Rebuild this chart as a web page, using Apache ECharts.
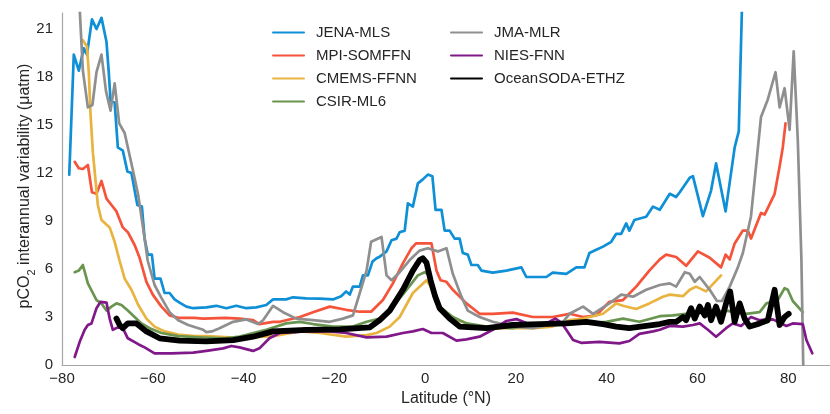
<!DOCTYPE html>
<html>
<head>
<meta charset="utf-8">
<script src="https://cdn.jsdelivr.net/npm/echarts@6/dist/echarts.min.js"></script>
<style>html,body{margin:0;padding:0;background:#fff}#c{width:830px;height:414px}</style>
</head>
<body>
<div id="c"></div>
<script>
// Latitude (°N) vs pCO2 interannual variability (µatm), [lat, value]
const seriesNames = ['JENA-MLS','MPI-SOMFFN','CMEMS-FFNN','CSIR-ML6','JMA-MLR','NIES-FNN','OceanSODA-ETHZ'];
const xTicks = [-80,-60,-40,-20,0,20,40,60,80];
const yTicks = [0,3,6,9,12,15,18,21];

const jenaMLS = [[-78.4,11.9],[-77.4,19.4],[-76.3,18.4],[-75.2,19.8],[-74.5,19.4],[-73.4,21.6],[-72.4,21.0],[-71.3,21.7],[-70.2,20.2],[-69.7,18.3],[-69.3,16.5],[-68.4,16.4],[-67.7,13.6],[-66.6,13.4],[-65.6,12.1],[-64.7,12.0],[-63.4,10.0],[-62.4,9.9],[-61.8,7.9],[-61.1,6.9],[-60.2,6.9],[-59.6,5.4],[-58.3,5.4],[-57.4,4.5],[-56.3,4.5],[-55.2,4.1],[-54.1,3.9],[-52.6,3.65],[-51.1,3.55],[-48.2,3.6],[-46,3.7],[-43.8,3.55],[-41.6,3.7],[-39.4,3.55],[-37.2,3.6],[-35,3.75],[-33.5,4.1],[-30.6,4.1],[-29.1,4.23],[-26.2,4.17],[-23.2,4.15],[-20.3,4.1],[-18.5,4.3],[-17.4,4.6],[-16.6,4.4],[-15.9,4.9],[-14.4,4.9],[-13.7,5.6],[-12.6,5.6],[-11.6,6.46],[-10.7,6.67],[-10,6.77],[-8.5,7.1],[-7.4,7.8],[-6.3,7.9],[-5.6,8.3],[-4.5,8.4],[-3.8,10.1],[-2.7,9.9],[-1.6,11.35],[-0.5,11.6],[0.6,11.9],[1.6,11.8],[2.3,9.7],[3.6,9.7],[4.3,8.4],[5.4,8.4],[6.5,7.9],[7.6,7.9],[8.3,7.0],[9.4,6.9],[10.2,6.25],[11.6,6.25],[12.4,5.9],[14.9,5.77],[17.9,5.9],[21.2,6.1],[22.3,5.5],[26.7,5.5],[28.1,5.77],[31.1,5.7],[33.3,6.1],[35.1,6.1],[36.2,7.0],[37.7,7.2],[39.2,7.4],[41,7.7],[42.1,8.2],[43.2,8.2],[44.3,8.85],[45,8.4],[46.1,9.06],[48.7,9.27],[50.2,9.9],[51.7,9.7],[53.9,10.7],[55.3,10.5],[56.1,10.8],[58.3,11.7],[59,11.8],[61.2,9.3],[63,10.9],[64.1,12.6],[66.2,9.6],[68.2,13.6],[69.1,14.6],[70.5,30]];

const mpiSOMFFN = [[-77.2,12.7],[-76.3,12.3],[-75.4,12.25],[-74.3,12.5],[-73.4,10.8],[-72.4,10.7],[-71.3,11.5],[-70.2,10.4],[-69.1,10.0],[-68,9.6],[-66.6,8.6],[-65.5,8.3],[-64,7.5],[-62.9,6.7],[-61.4,5.2],[-60,4.4],[-58.1,3.65],[-56.3,3.1],[-54.4,2.95],[-50.8,2.95],[-48.9,2.9],[-44,2.95],[-40.9,2.9],[-37.9,2.8],[-36.5,2.55],[-33.5,2.7],[-32,2.7],[-27.6,3.0],[-24.7,3.3],[-21,3.65],[-17.4,3.45],[-14.4,3.33],[-11.9,3.33],[-9.3,4.06],[-7.1,5.1],[-4.9,6.35],[-3,7.3],[-2,7.6],[1.4,7.6],[2.5,5.9],[3.4,5.3],[4.7,5.2],[6.1,4.7],[9.1,3.85],[12,3.2],[14.9,3.2],[19.3,3.27],[23.7,3.0],[28.1,3.0],[31.8,3.2],[34.8,3.0],[37.7,3.1],[40.6,3.95],[43.6,4.06],[46.5,4.9],[49.4,5.9],[51.7,6.6],[53.1,6.9],[55.3,6.75],[57.5,6.2],[60.1,7.1],[62.7,6.7],[65.2,6.1],[66.2,6.9],[67.1,6.6],[68.2,7.6],[70,8.4],[71.1,8.4],[71.8,7.9],[74,9.5],[74.8,9.4],[77,10.7],[78.1,12.4],[78.8,13.6],[79.4,15.1]];

const cmemsFFNN = [[-75.4,20.3],[-74.5,19.9],[-74.1,18.3],[-73.7,15.6],[-73.2,13.3],[-72.6,11.5],[-72.1,10],[-71.3,9.06],[-69.5,8.6],[-68.4,7.7],[-67.3,6.5],[-66.2,5.4],[-64.7,4.7],[-63.2,3.75],[-61.4,2.9],[-59.6,2.4],[-57.4,2.1],[-54.4,1.9],[-50.8,1.8],[-48.2,1.8],[-40.9,1.7],[-33.5,1.8],[-27.6,2.1],[-23.2,2.0],[-17.4,1.77],[-12.9,1.87],[-10.7,2.0],[-7.8,2.4],[-5.6,3.0],[-2.7,4.5],[0.3,5.3],[1.2,4.9],[2.5,3.9],[3.2,3.4],[6.9,2.8],[8.3,2.7],[10.5,2.45],[12,2.35],[16,2.3],[20,2.3],[24,2.3],[28,2.4],[31.8,2.8],[34.8,2.9],[36.2,3.0],[39.2,3.2],[42.1,3.85],[43.6,3.7],[46.5,3.5],[49.4,3.85],[52.4,4.27],[53.9,4.4],[56.8,4.3],[58.3,4.7],[59.7,4.9],[61.9,4.6],[65.2,5.6]];

const csirML6 = [[-77.2,5.8],[-76.3,5.9],[-75.4,6.25],[-74.3,5.1],[-73.2,4.5],[-72.4,4.06],[-71.3,3.85],[-70.2,3.4],[-69.1,3.65],[-68,3.85],[-66.9,3.75],[-65.5,3.4],[-64,3.0],[-62.5,2.6],[-60.7,2.3],[-58.1,2.0],[-54.4,1.8],[-48.9,1.72],[-44,1.67],[-40.9,1.77],[-35,2.2],[-30.6,2.6],[-27.6,2.7],[-24.7,2.56],[-20.3,2.4],[-15.9,2.4],[-12.9,2.7],[-10,2.9],[-7.1,3.65],[-4.1,4.7],[-1.6,5.6],[-0.1,5.8],[1,5.6],[2.5,4.27],[3.2,3.65],[6.1,3.0],[9.1,2.6],[13.5,2.4],[19.3,2.3],[23,2.5],[27,2.55],[30.4,2.6],[35.5,2.6],[39.9,2.7],[43.6,2.9],[47.2,2.7],[51.7,3.05],[54.6,3.1],[57.5,3.2],[62.7,3.3],[66.3,3.4],[70.7,3.2],[73.7,3.3],[75.2,3.85],[77.7,4.06],[79.2,4.8],[79.9,4.7],[81,4.0],[83.2,3.3]];

const jmaMLR = [[-76.6,25],[-75.4,18.4],[-74.3,16.1],[-73.3,16.25],[-72.4,18.3],[-71.3,19.4],[-70.3,17.1],[-69.3,15.9],[-68.4,17.6],[-67.4,15.1],[-66.2,14.5],[-64.4,12.2],[-63.2,10.6],[-62.1,8.5],[-61.1,6.5],[-59.6,5.0],[-58.1,4.2],[-56.3,3.3],[-54.4,2.8],[-52.2,2.5],[-48.9,2.2],[-48.2,2.05],[-47,2.1],[-45.3,2.3],[-42.3,2.7],[-39.4,2.85],[-36.8,2.56],[-35.7,2.8],[-33.5,3.7],[-31.3,3.3],[-28.4,2.9],[-24.7,2.8],[-21,2.7],[-18.1,2.9],[-15.9,3.1],[-14.4,4.5],[-12.9,5.9],[-11.9,7.7],[-9.6,8.0],[-8.5,5.6],[-7.4,5.3],[-5.6,5.8],[-3.4,6.56],[-1.2,7.15],[0.6,7.3],[2.8,7.1],[4.7,7.3],[6.1,5.7],[8,4.27],[9.4,3.4],[12,3.0],[14.9,2.7],[19.3,2.4],[23.7,2.3],[27.4,2.5],[30.4,2.7],[31.8,3.2],[34.8,3.65],[37,3.2],[40.6,3.85],[43.2,4.4],[45.8,4.27],[48.7,4.7],[51.7,5.0],[53.9,5.1],[55.3,4.9],[57.2,5.8],[58.3,5.7],[59.4,5.2],[60.5,5.5],[62.7,4.7],[64.3,4.0],[65.4,4.0],[67.1,4.9],[68.9,6.1],[70,7.0],[71.8,9.3],[72.9,12.4],[74,15.5],[75.5,16.6],[77.2,18.3],[78.1,16.1],[79.2,17.3],[80.3,14.7],[81.2,19.6],[82.1,14.1],[82.9,6.6],[83.3,0]];

const niesFNN = [[-77.2,0.5],[-76.1,1.45],[-75,2.2],[-74.3,2.5],[-73.5,2.6],[-72.4,3.55],[-71.5,3.95],[-70.2,3.9],[-69.5,2.9],[-68.8,2.2],[-67.7,2.35],[-66.6,2.3],[-65.5,1.67],[-63.2,1.3],[-61.8,1.1],[-59.6,0.73],[-55.9,0.73],[-51.1,0.77],[-48.2,0.88],[-44.5,1.04],[-42.7,1.19],[-40.9,1.1],[-37.9,0.88],[-36.5,1.04],[-34.3,1.67],[-32,2.0],[-26.2,2.1],[-21,2.1],[-17.4,2.0],[-12.9,1.73],[-8.5,1.77],[-4.9,2.0],[-2.7,2.1],[-0.5,2.25],[1.4,2.0],[3.9,2.0],[6.9,1.52],[9.1,1.6],[12,1.77],[14.9,2.2],[17.9,2.75],[20.1,2.87],[22.3,2.62],[25.5,2.53],[27.4,2.7],[28.7,2.9],[30,2.65],[31.1,2.2],[32.6,1.56],[34.5,1.38],[38.4,1.45],[42.8,1.35],[45,1.5],[47.2,1.95],[50.2,2.1],[51.7,2.2],[53.9,2.44],[56.8,2.4],[59,2.5],[60.5,2.6],[62.3,2.2],[64.1,1.77],[66.3,2.3],[67.8,2.6],[69.6,2.44],[71.8,3.0],[73.7,2.8],[76.6,2.85],[79.6,2.44],[81,2.6],[83.2,2.56],[84,1.56],[85.3,0.73]];

const oceanSODA = [[-68,2.9],[-67.3,2.5],[-66.6,2.3],[-65.5,2.6],[-63.6,2.6],[-61.4,2.1],[-58.5,1.67],[-54.1,1.52],[-48.2,1.48],[-42.3,1.56],[-37.9,1.77],[-33.5,2.1],[-26.2,2.2],[-18.8,2.23],[-12.2,2.35],[-10,2.8],[-7.8,3.4],[-4.9,4.7],[-2.7,5.9],[-1.2,6.56],[-0.5,6.67],[0.3,6.4],[1.2,5.3],[2.2,4.3],[3.2,3.55],[5.4,2.9],[7.6,2.4],[10.5,2.35],[13.5,2.3],[19.3,2.5],[25.2,2.56],[31.1,2.6],[35.5,2.7],[39.2,2.55],[42.1,2.4],[45,2.3],[48.7,2.44],[51.7,2.56],[53.9,2.7],[55.3,2.7],[56.8,3.0],[57.5,2.8],[58.6,3.55],[59.4,2.9],[60.5,3.65],[61.6,3.1],[62.3,3.75],[63,2.8],[64.1,3.65],[65.2,2.7],[66.3,3.85],[67.2,4.6],[68.2,2.7],[69.3,3.85],[70.4,2.9],[71.5,2.4],[73.7,2.6],[75.5,2.8],[77,4.7],[78.1,2.5],[79.2,3.0],[80.1,3.2]];

const allData = [jenaMLS, mpiSOMFFN, cmemsFFNN, csirML6, jmaMLR, niesFNN, oceanSODA];
const colors = ['#0e8fd6','#f5533a','#e8b33f','#6a9550','#8f8f8f','#80188a','#000000'];
const widths = [2.7,2.7,2.7,2.7,2.7,2.7,5.8];
const FONT = '"Liberation Sans", Arial, sans-serif';
const minusFmt = v => (v < 0 ? '\u2212' + Math.abs(v) : String(v));

const chart = echarts.init(document.getElementById('c'), null, {renderer: 'canvas'});
const series = seriesNames.map((n, i) => ({
  name: n, type: 'line', data: allData[i], showSymbol: false, symbol: 'none',
  color: colors[i], z: 2 + i,
  lineStyle: {color: colors[i], width: widths[i], cap: 'round', join: 'round'},
  emphasis: {disabled: true}
}));
const legendBase = {
  orient: 'vertical', top: 25, padding: 0, itemWidth: 31, itemHeight: 14, itemGap: 8,
  itemStyle: {color: 'rgba(0,0,0,0)', borderWidth: 0, opacity: 0},
  textStyle: {fontFamily: FONT, fontSize: 15, color: '#262626', padding: [0, 0, 0, 7]},
  selectedMode: false
};
chart.setOption({
  animation: false,
  backgroundColor: '#ffffff',
  textStyle: {fontFamily: FONT},
  grid: {left: 62, right: 0, top: 13, bottom: 49, containLabel: false, outerBoundsMode: 'none'},
  legend: [
    Object.assign({}, legendBase, {left: 272, data: seriesNames.slice(0, 4)}),
    Object.assign({}, legendBase, {left: 450, data: seriesNames.slice(4)})
  ],
  graphic: [{
    type: 'text', x: 25, y: 186, rotation: Math.PI / 2, silent: true,
    style: {
      text: 'pCO{sub|2} interannual variability (μatm)',
      fontFamily: FONT, fontSize: 16, fill: '#262626', align: 'center', verticalAlign: 'middle',
      rich: {sub: {fontFamily: FONT, fontSize: 11, fill: '#262626', verticalAlign: 'bottom', lineHeight: 24}}
    }
  }],
  xAxis: {
    type: 'value', min: -80, max: 89.2, interval: 20,
    name: 'Latitude (°N)', nameLocation: 'middle', nameGap: 24,
    nameTextStyle: {fontFamily: FONT, fontSize: 16, color: '#262626'},
    axisLine: {onZero: false, lineStyle: {color: '#a6a6a6', width: 1.2}},
    axisTick: {show: false}, splitLine: {show: false},
    axisLabel: {fontFamily: FONT, fontSize: 15, color: '#262626', margin: 6,
      showMaxLabel: false, formatter: v => xTicks.includes(v) ? minusFmt(v) : ''}
  },
  yAxis: {
    type: 'value', min: 0, max: 22, interval: 3,
    axisLine: {show: true, onZero: false, lineStyle: {color: '#a6a6a6', width: 1.2}},
    axisTick: {show: false}, splitLine: {show: false},
    axisLabel: {fontFamily: FONT, fontSize: 15, color: '#262626', margin: 9,
      showMaxLabel: false, formatter: v => yTicks.includes(v) ? String(v) : ''}
  },
  series: series
});
</script>
</body>
</html>
